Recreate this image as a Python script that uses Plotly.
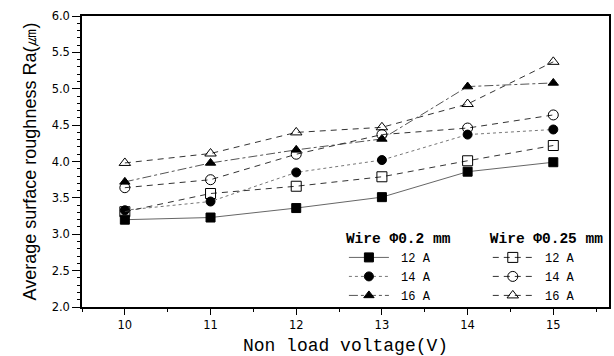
import plotly.graph_objects as go

# Non-load voltage settings (V)
voltage = [10, 11, 12, 13, 14, 15]

# Average surface roughness Ra (um), wire diameter 0.2 mm
ra_02_12a = [3.20, 3.23, 3.36, 3.51, 3.86, 3.99]
ra_02_14a = [3.33, 3.45, 3.85, 4.02, 4.37, 4.44]
ra_02_16a = [3.72, 3.98, 4.16, 4.31, 5.03, 5.08]

# Average surface roughness Ra (um), wire diameter 0.25 mm
ra_025_12a = [3.31, 3.56, 3.66, 3.79, 4.01, 4.22]
ra_025_14a = [3.64, 3.75, 4.10, 4.37, 4.46, 4.64]
ra_025_16a = [3.98, 4.11, 4.40, 4.47, 4.79, 5.37]

current_labels = [" 12 A", " 14 A", " 16 A"]
y_ticks = [2.0, 2.5, 3.0, 3.5, 4.0, 4.5, 5.0, 5.5, 6.0]

fig = go.Figure()

thin_series = [
    (ra_02_12a, "square", "solid", "#666666"),
    (ra_02_14a, "circle", "dot", "#777777"),
    (ra_02_16a, "triangle-up", "dashdot", "#555555"),
]
for (vals, sym, dash, col), lab in zip(thin_series, current_labels):
    fig.add_trace(go.Scatter(
        x=voltage, y=vals, name=lab, mode="lines+markers",
        line=dict(color=col, width=1, dash=dash),
        marker=dict(symbol=sym, size=9, color="black",
                    line=dict(color="black", width=1)),
        legend="legend",
    ))

open_series = [
    (ra_025_12a, "square-open"),
    (ra_025_14a, "circle-open"),
    (ra_025_16a, "triangle-up-open"),
]
for (vals, sym), lab in zip(open_series, current_labels):
    fig.add_trace(go.Scatter(
        x=voltage, y=vals, name=lab, mode="lines+markers",
        line=dict(color="#333333", width=1, dash="6px,5px"),
        marker=dict(symbol=sym, size=10, color="black",
                    line=dict(color="black", width=1)),
        legend="legend2",
    ))

mono = "Liberation Mono, DejaVu Sans Mono, monospace"
tick_font = "DejaVu Sans, Verdana, sans-serif"
legend_common = dict(
    bgcolor="rgba(0,0,0,0)", borderwidth=0,
    font=dict(family=mono, size=12, color="black"),
    tracegroupgap=0, itemwidth=40,
    xanchor="left", yanchor="top",
)

fig.update_layout(
    width=614, height=356,
    margin=dict(l=82, r=3, t=16, b=49),
    paper_bgcolor="white", plot_bgcolor="white",
    font=dict(family="Arial, Liberation Sans, sans-serif", color="black"),
    legend=dict(
        x=0.497, y=0.285,
        title=dict(text="<b>Wire \u03a60.2 mm</b>",
                   font=dict(family=mono, size=14.5, color="black"), side="top"),
        **legend_common,
    ),
    legend2=dict(
        x=0.77, y=0.285,
        title=dict(text="<b>Wire \u03a60.25 mm</b>",
                   font=dict(family=mono, size=14.5, color="black"), side="top"),
        **legend_common,
    ),
    xaxis=dict(
        range=[9.5, 15.65], tickvals=voltage, ticks="outside", ticklen=6,
        tickwidth=1, tickcolor="black",
        minor=dict(dtick=0.5, ticks="outside", ticklen=3, tickcolor="black"),
        showline=True, linecolor="black", linewidth=1.5, mirror=True,
        showgrid=False, zeroline=False,
        tickfont=dict(family=tick_font, size=11.5),
        title=dict(text="Non load voltage(V)", standoff=8,
                   font=dict(family=mono, size=18, color="black")),
    ),
    yaxis=dict(
        range=[2.0, 6.0], tickvals=y_ticks, ticktext=[f"{v:.1f}" for v in y_ticks],
        ticks="outside", ticklen=8, tickwidth=1, tickcolor="black",
        minor=dict(dtick=0.1, ticks="outside", ticklen=3, tickcolor="black"),
        showline=True, linecolor="black", linewidth=1.5, mirror=True,
        showgrid=False, zeroline=False,
        tickfont=dict(family=tick_font, size=11.5),
        title=dict(text="Average surface roughness Ra(\u339b)", standoff=10,
                   font=dict(family="Liberation Sans Narrow, Arial Narrow, Liberation Sans, sans-serif",
                             size=18, color="black")),
    ),
)

fig.write_html("out.html")
